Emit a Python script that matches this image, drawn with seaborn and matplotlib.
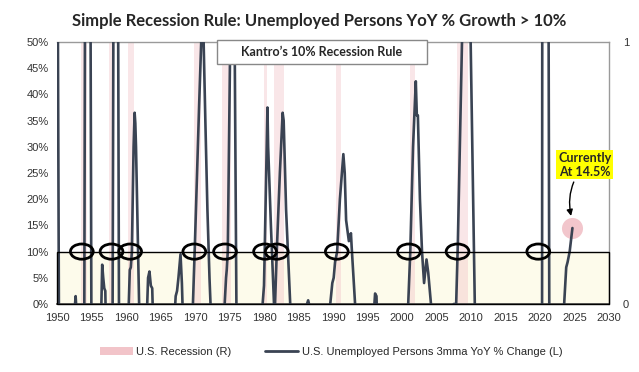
import matplotlib
matplotlib.use("Agg")
import matplotlib.pyplot as plt
import seaborn as sns
import pandas as pd
from matplotlib.patches import Ellipse, Rectangle, Patch
from matplotlib.lines import Line2D

# ---------------- data ----------------
years = [1950.0, 1950.3, 1951.0, 1952.0, 1952.5, 1952.7, 1952.9, 1953.3, 1953.95, 1954.1,
         1954.5, 1954.85, 1955.0, 1955.5, 1956.0, 1956.4, 1956.55, 1956.7, 1956.85, 1957.0,
         1957.1, 1957.6, 1958.05, 1958.25, 1958.5, 1958.85, 1959.0, 1959.5, 1960.0, 1960.4,
         1960.55, 1960.7, 1960.85, 1961.1, 1961.25, 1961.35, 1961.45, 1961.9, 1962.0, 1962.5,
         1963.0, 1963.2, 1963.4, 1963.6, 1963.8, 1963.9, 1964.5, 1965.5, 1966.5, 1967.0,
         1967.2, 1967.4, 1967.6, 1967.9, 1968.1, 1968.3, 1969.0, 1969.7, 1970.0, 1970.3,
         1970.6, 1970.9, 1971.05, 1971.25, 1971.5, 1971.8, 1972.1, 1972.4, 1973.0, 1973.8,
         1974.3, 1974.5, 1974.6, 1974.75, 1975.1, 1975.4, 1975.75, 1976.0, 1976.1, 1977.0,
         1978.0, 1979.0, 1979.5, 1979.8, 1980.0, 1980.1, 1980.5, 1980.6, 1981.0, 1981.45,
         1981.55, 1981.6, 1981.85, 1982.3, 1982.7, 1982.85, 1983.2, 1983.8, 1984.0, 1984.5,
         1985.5, 1986.0, 1986.4, 1986.7, 1987.5, 1988.5, 1989.3, 1989.6, 1989.9, 1990.1,
         1990.3, 1990.6, 1991.0, 1991.5, 1991.7, 1991.9, 1992.3, 1992.6, 1992.7, 1993.2,
         1993.5, 1994.5, 1995.5, 1995.9, 1996.1, 1996.3, 1996.4, 1997.0, 1998.0, 1999.0,
         2000.0, 2000.6, 2000.9, 2001.2, 2001.6, 2002.0, 2002.15, 2002.3, 2002.6, 2002.9,
         2003.2, 2003.55, 2003.8, 2004.2, 2004.4, 2005.0, 2006.0, 2007.0, 2007.5, 2007.85,
         2008.1, 2008.7, 2009.3, 2009.8, 2009.95, 2010.55, 2011.0, 2012.0, 2014.0, 2016.0,
         2018.0, 2019.5, 2020.3, 2020.45, 2021.0, 2021.25, 2021.4, 2022.0, 2023.0, 2023.5,
         2023.8, 2024.0, 2024.3, 2024.7]
values = [100, -10, -30, -15, -2, 1.5, -3, -15, -5, 80,
          120, 60, -10, -30, -15, -2, 7.5, 5, 3, 2.5,
          -5, -3, -5, 90, 100, 60, -10, -25, -10, 0,
          6.5, 7, 10, 30, 36.5, 34.5, 30, 0, -5, -15,
          -3, 5, 6.2, 3.5, 3, -2, -10, -15, -15, -3,
          1.5, 2.5, 5, 9.5, 4, -5, -5, 0, 12, 25,
          38, 50, 56, 50, 35, 18, 5, -5, -15, -5,
          0, 5, 6.5, 10, 50, 70, 50, 0, -5, -10,
          -12, -5, -2, 0, 3.5, 10, 37.5, 30, 15, 0,
          -2, 0, 10, 25, 36.5, 35, 18, 0, -10, -15,
          -3, -1, 0.7, -1, -10, -8, -3, 0, 4, 5,
          8, 10, 20, 28.6, 25, 16, 12, 13.5, 11, 0,
          -8, -10, -3, -2, 2, 1.5, -3, -10, -10, -8,
          -5, -2, 0, 10, 30, 42.5, 36, 36, 20, 10,
          4, 8.5, 6, 0, -5, -10, -10, -3, 0, 0,
          12, 50, 90, 60, 50, 0, -10, -12, -15, -8,
          -8, -3, -2, 300, 200, 50, -30, -40, -5, 0,
          7, 8, 10, 14.5]

recessions_start = [1953.5, 1957.6, 1960.3, 1969.9, 1973.9, 1980.0, 1981.5, 1990.5, 2001.2, 2007.9, 2020.1]
recessions_end = [1954.4, 1958.3, 1961.1, 1970.9, 1975.2, 1980.5, 1982.9, 1991.2, 2001.9, 2009.5, 2020.4]

circle_years = [1953.6, 1957.9, 1960.6, 1969.9, 1974.35, 1980.15, 1981.85, 1990.55, 2001.0, 2008.05, 2019.75]
threshold = 10
current_year = 2024.7
current_value = 14.5

x_ticks = list(range(1950, 2031, 5))
y_ticks = list(range(0, 51, 5))

title = "Simple Recession Rule: Unemployed Persons YoY % Growth > 10%"
box_label = "Kantro\u2019s 10% Recession Rule"
note_label = "Currently\nAt 14.5%"
legend_labels = ["U.S. Recession (R)", "U.S. Unemployed Persons 3mma YoY % Change (L)"]

# ---------------- style ----------------
sns.set_theme(style="white")
plt.rcParams['font.family'] = ['Liberation Sans', 'DejaVu Sans']

line_color = "#3a4353"
pink = "#f2c4c9"

df = pd.DataFrame({"year": years, "value": values})

fig = plt.figure(figsize=(6.39, 3.72), dpi=100)
ax = fig.add_axes([57/639, 1 - 304/372, (609-57)/639, (304-42)/372])

ax.set_xlim(1950, 2030)
ax.set_ylim(0, 50)

# yellow band below threshold
ax.add_patch(Rectangle((1950, 0), 80, threshold, facecolor="#fdfbeb", edgecolor="none", zorder=0))

for s, e in zip(recessions_start, recessions_end):
    ax.axvspan(s, e, color=pink, alpha=0.42, lw=0, zorder=1)

ax.scatter([current_year], [current_value], s=230, color="#f0bcc3", alpha=0.85, zorder=2, lw=0)

sns.lineplot(data=df, x="year", y="value", ax=ax, color=line_color, lw=1.9, zorder=3)

# threshold box outline
ax.add_patch(Rectangle((1950, 0), 80, threshold, facecolor="none", edgecolor="black", lw=1.0, zorder=4,
                       clip_on=False))

for cy in circle_years:
    ax.add_patch(Ellipse((cy, threshold), width=3.3, height=2.9, fill=False, edgecolor="black",
                         lw=2.0, zorder=5))

ax.set_xticks(x_ticks)
ax.set_xticklabels([str(t) for t in x_ticks])
ax.set_yticks(y_ticks)
ax.set_yticklabels([f"{t}%" for t in y_ticks])
ax.tick_params(axis="both", labelsize=8, colors="#333333", length=3, width=0.8)
ax.tick_params(axis="y", length=0, pad=6)
ax.set_xlabel("")
ax.set_ylabel("")
for side in ["top", "right"]:
    ax.spines[side].set_color("#9a9a9a")
    ax.spines[side].set_linewidth(1.0)
ax.spines["left"].set_visible(False)
ax.spines["bottom"].set_color("#555555")

ax2 = ax.twinx()
ax2.set_ylim(0, 1)
ax2.set_yticks([0, 1])
ax2.set_yticklabels(["0", "1"])
ax2.tick_params(axis="y", labelsize=8, colors="#333333", length=0, pad=10)
for side in ["top", "right", "left", "bottom"]:
    ax2.spines[side].set_visible(False)

# label box (axes-fraction layout)
ax.add_patch(Rectangle((0.29, 0.916), 0.38, 0.092, transform=ax.transAxes, facecolor="white",
                       edgecolor="#888888", lw=1.0, zorder=6, clip_on=False))
ax.text(0.48, 0.962, box_label, transform=ax.transAxes, ha="center", va="center", fontsize=9,
        fontweight="bold", family=["Lato", "DejaVu Sans"], zorder=7)

ax.annotate(note_label, xy=(2024.5, 16.8), xytext=(2026.5, 26.6), ha="center", va="center",
            fontsize=9, fontweight="bold", family=["Lato", "DejaVu Sans"], zorder=7,
            bbox=dict(boxstyle="square,pad=0.15", facecolor="#ffff00", edgecolor="none"),
            arrowprops=dict(arrowstyle="-|>", color="black", lw=1.0,
                            connectionstyle="arc3,rad=0.25", shrinkA=2, shrinkB=0),
            annotation_clip=False)

fig.suptitle(title, x=0.5, y=0.965, fontsize=12, fontweight="bold", family=["Lato", "DejaVu Sans"])

handles = [Patch(facecolor=pink, edgecolor="none"), Line2D([0], [0], color=line_color, lw=2)]
fig.legend(handles, legend_labels, loc="center", bbox_to_anchor=(0.518, 0.054), ncol=2, frameon=False,
           fontsize=8, handlelength=3, columnspacing=3, handletextpad=0.3)

fig.savefig("out.png", dpi=100)
